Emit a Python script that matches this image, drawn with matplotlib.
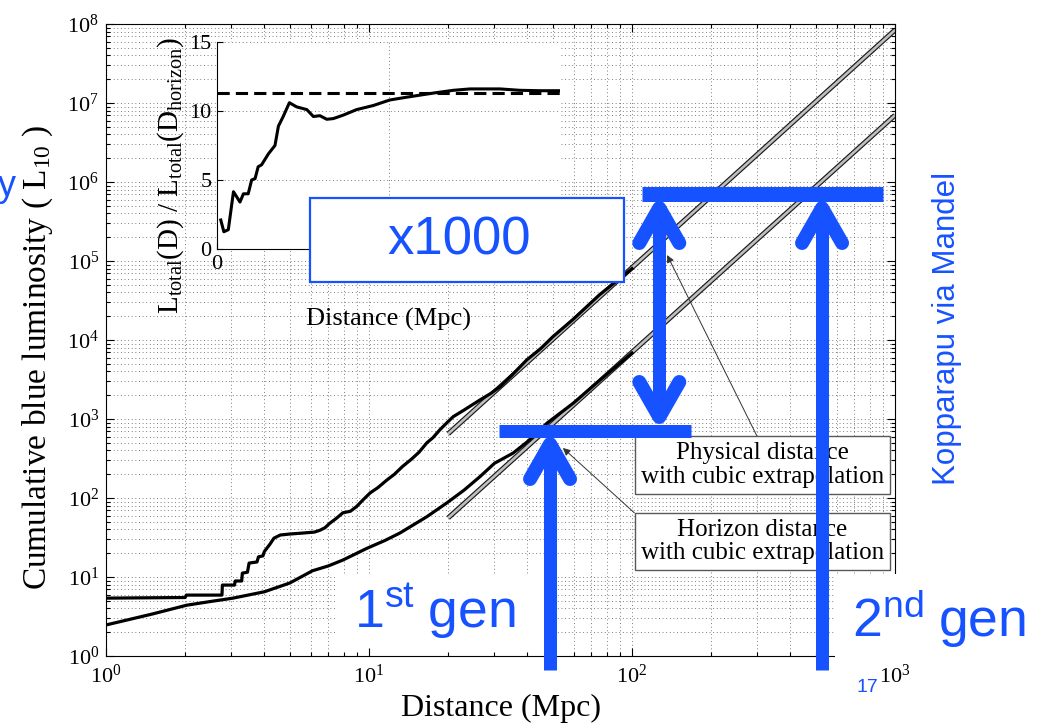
import numpy as np
import matplotlib
matplotlib.use("Agg")
import matplotlib.pyplot as plt
from matplotlib.ticker import LogLocator, NullFormatter, FixedLocator
from matplotlib.lines import Line2D
from matplotlib.patches import Rectangle
from matplotlib.transforms import IdentityTransform

plt.rcParams.update({
    'font.family': ['Liberation Serif', 'DejaVu Serif'],
    'mathtext.fontset': 'custom',
    'mathtext.rm': 'Liberation Serif',
    'mathtext.it': 'Liberation Serif:italic',
    'mathtext.bf': 'Liberation Serif:bold',
})

# ---------------------------------------------------------------- data
# cumulative blue luminosity (L10) inside a given physical distance (Mpc)
phys_dist = [1.0, 2.0, 2.02, 2.76, 2.77, 3.08, 3.1, 3.28, 3.3, 3.45, 3.5, 3.75,
             3.8, 3.95, 4.0, 4.2, 4.35, 4.6, 5.0, 5.6, 6.2, 6.5, 6.8, 7.1, 7.5,
             7.96, 8.5, 8.97, 9.5, 10.1, 10.8, 11.7, 12.5, 13.4, 14.5, 15.5,
             16.6, 17.5, 18.6, 19.6, 20.9, 23.0, 26.4, 29.0, 31.5, 35.0, 39.8,
             45.0, 50.0, 60.0, 75.0, 100.0]
phys_lum = [5.4, 5.5, 5.9, 5.9, 7.9, 7.9, 8.9, 8.9, 11.2, 11.5, 15, 15.5,
            18, 18.5, 21, 26, 31, 34, 35, 36, 37, 39, 42, 48, 55,
            65, 68, 78, 95, 116, 135, 169, 200, 250, 310, 380,
            500, 580, 730, 870, 1070, 1300, 1740, 2100, 2560, 3600, 5600,
            7800, 11000, 18500, 37000, 80000]

# same quantity against horizon distance
hor_dist = [1.0, 1.5, 2.03, 2.5, 3.04, 4.0, 5.0, 6.1, 7.0, 7.96, 9.8, 11.5,
            13.1, 16.6, 19.8, 23.0, 26.4, 30.0, 35.3, 40.0, 47.6, 60.0,
            75.5, 100.0]
hor_lum = [2.47, 3.4, 4.4, 4.9, 5.4, 6.5, 8.4, 12, 13.8, 16.4, 23, 29,
           36, 58, 87, 126, 186, 275, 370, 515, 890, 1600,
           3100, 6840]

# cubic extrapolations (end points)
ext_dist = [20, 1000]
phys_ext_lum = [650, 8.4e7]
hor_ext_lum = [56, 7.0e6]

# inset: L_total(D) / L_total(D_horizon)
ratio_dist = [1.1, 2.0, 3.3, 4.8, 5.7, 6.7, 7.7, 9.1, 10.1, 11.1, 12.0, 13.0,
              15.0, 16.9, 17.9, 19.3, 21.1, 23.2, 26.2, 28.1, 30.0, 32.0,
              33.9, 36.8, 40.7, 45.6, 50.4, 55.3, 63.1, 68.9, 73.8, 82.5,
              88.3, 94.2, 99.8]
ratio_val = [2.1, 1.25, 1.4, 4.15, 3.8, 3.4, 4.0, 4.0, 5.0, 5.1, 5.96, 6.1,
             6.9, 7.5, 8.9, 9.6, 10.6, 10.3, 10.1, 9.6, 9.66, 9.4,
             9.45, 9.7, 10.1, 10.4, 10.8, 11.0, 11.3, 11.5, 11.6, 11.6,
             11.5, 11.47, 11.47]
ratio_limit = 11.3
inset_xticks = [0, 50, 100]
inset_xticklabels = ['0', '', '']
inset_yticks = [0, 5, 10, 15]

# detector generations
first_gen_lum = 715
gain = 1000
second_gen_lum = first_gen_lum * gain
first_gen_dist = 48.8
second_gen_dist = 528
gain_arrow_dist = 127
first_bar_span = [31.2, 167]
second_bar_span = [109, 900]

# annotation targets
phys_note_xy = (136, 1.19e5)
hor_note_xy = (54.6, 430)

# ---------------------------------------------------------------- figure
W, H = 1044, 728
DPI = 100
PT = 72 / DPI
fig = plt.figure(figsize=(W / DPI, H / DPI), dpi=DPI)
BLUE = '#1652ff'
SANS = ['Liberation Sans', 'DejaVu Sans']


def rect(l, t, r, b):
    return [l / W, 1 - b / H, (r - l) / W, (b - t) / H]


def fpos(x, y):
    return x / W, 1 - y / H


def log_setup(a):
    a.set_xscale('log')
    a.set_yscale('log')
    a.set_xlim(1, 1000)
    a.set_ylim(1, 1e8)
    for axis in (a.xaxis, a.yaxis):
        axis.set_major_locator(LogLocator(10, numticks=20))
        axis.set_minor_locator(LogLocator(10, subs=np.arange(2, 10), numticks=60))
        axis.set_minor_formatter(NullFormatter())


GRID = dict(color='0.42', linestyle=(0, (1, 3)), linewidth=0.65)
main_rect = rect(106, 24, 895, 656)

# background grid layer
gax = fig.add_axes(main_rect, zorder=0)
log_setup(gax)
gax.grid(True, which='both', **GRID)
gax.tick_params(which='both', length=0, labelbottom=False, labelleft=False)
for s in gax.spines.values():
    s.set_visible(False)
# blank area behind the "1st gen" label
gax.add_patch(Rectangle((337, H - 655), 211, 81, transform=IdentityTransform(),
                        facecolor='white', edgecolor='none', zorder=3))

# main axes
ax = fig.add_axes(main_rect, zorder=1)
ax.set_facecolor('none')
log_setup(ax)
ax.tick_params(which='both', direction='in', top=True, right=True,
               width=0.8, labelsize=16)
ax.tick_params(which='major', length=6)
ax.tick_params(which='minor', length=3)
ax.tick_params(axis='x', which='major', pad=6)
ax.tick_params(axis='y', which='major', pad=5)

for lum in (phys_ext_lum, hor_ext_lum):
    ax.plot(ext_dist, lum, color='0.1', lw=3.6, solid_capstyle='butt', zorder=2)
    ax.plot(ext_dist, lum, color='0.75', lw=1.9, solid_capstyle='butt', zorder=2.1)
ax.plot(phys_dist, phys_lum, color='black', lw=2.3, zorder=3)
ax.plot(hor_dist, hor_lum, color='black', lw=2.3, zorder=3)

box_style = dict(boxstyle='square,pad=0.24', fc='white', ec='0.35', lw=1.0)
arrow_style = dict(arrowstyle='-|>', color='0.2', lw=0.7, mutation_scale=11,
                   shrinkA=0, shrinkB=0)
ax.annotate('Physical distance\nwith cubic extrapolation', xy=phys_note_xy,
            xycoords='data', xytext=(762.5, H - 465), textcoords='figure pixels',
            ha='center', va='center', fontsize=18, linespacing=1.08,
            bbox=box_style, arrowprops=dict(relpos=(0.49, 1.0), **arrow_style),
            zorder=5, annotation_clip=False)
ax.annotate('Horizon distance\nwith cubic extrapolation', xy=hor_note_xy,
            xycoords='data', xytext=(762.5, H - 541.5), textcoords='figure pixels',
            ha='center', va='center', fontsize=18, linespacing=1.08,
            bbox=box_style, arrowprops=dict(relpos=(0.0, 1.0), **arrow_style),
            zorder=5, annotation_clip=False)

fig.text(*fpos(501, 708), 'Distance (Mpc)', fontsize=23, ha='center', va='center')
fig.text(*fpos(38, 357), r'Cumulative blue luminosity ( $\mathdefault{L_{10}}$ )',
         fontsize=24, rotation=90, ha='center', va='center')

# inset
ins = fig.add_axes(rect(217, 42, 560, 249), zorder=2)
ins.set_facecolor('white')
ins.plot([inset_xticks[0], inset_xticks[-1]], [ratio_limit, ratio_limit],
         color='black', lw=2.2, linestyle='--', dashes=(4, 2))
ins.plot(ratio_dist, ratio_val, color='black', lw=2.2)
ins.set_xlim(inset_xticks[0], inset_xticks[-1])
ins.set_ylim(inset_yticks[0], inset_yticks[-1])
ins.xaxis.set_major_locator(FixedLocator(inset_xticks))
ins.set_xticklabels(inset_xticklabels)
ins.yaxis.set_major_locator(FixedLocator(inset_yticks))
ins.spines['top'].set_visible(False)
ins.spines['right'].set_visible(False)
ins.grid(True, **GRID)
ins.tick_params(direction='in', length=4, width=0.8, labelsize=16, pad=4)
fig.text(*fpos(388, 319), 'Distance (Mpc)', fontsize=19, ha='center', va='center')
fig.text(*fpos(171, 176),
         r'$\mathdefault{L_{total}(D)\ /\ L_{total}(D_{horizon})}$',
         fontsize=21, rotation=90, ha='center', va='center')

# ---------------------------------------------------------------- overlay
def px(d, l):
    return ax.transData.transform((d, l))


def stroke(xs, ys, width_px, cap='butt'):
    fig.add_artist(Line2D(xs, ys, transform=IdentityTransform(), color=BLUE,
                          linewidth=width_px * PT, solid_capstyle=cap,
                          solid_joinstyle='round', zorder=10))


def chevron(x, tip_y, direction):
    ty = tip_y - direction * 7
    stroke([x - 20, x, x + 20], [ty - direction * 35, ty, ty - direction * 35],
           14, cap='round')


# white area behind "2nd gen"
fig.add_artist(Rectangle((835, H - 664), W - 835, 90, transform=IdentityTransform(),
                         facecolor='white', edgecolor='none', zorder=8))
# "x1000" box
fig.add_artist(Rectangle((310, H - 282), 314, 84, transform=IdentityTransform(),
                         facecolor='white', edgecolor=BLUE, lw=1.6, zorder=9))
fig.text(*fpos(459, 241), 'x1000', fontsize=38, color=BLUE, family=SANS,
         ha='center', va='center', zorder=11)

y1 = px(1, first_gen_lum)[1]
y2 = px(1, second_gen_lum)[1]
stroke([px(first_bar_span[0], 1)[0], px(first_bar_span[1], 1)[0]], [y1, y1], 13)
stroke([px(second_bar_span[0], 1)[0], px(second_bar_span[1], 1)[0]], [y2, y2], 15)
bottom = ax.get_position().y0 * H - 14

x = px(first_gen_dist, 1)[0]
stroke([x, x], [bottom, y1 - 13], 13)
chevron(x, y1 - 6.5, +1)

x = px(second_gen_dist, 1)[0]
stroke([x, x], [bottom, y2 - 14], 13)
chevron(x, y2 - 7.5, +1)

x = px(gain_arrow_dist, 1)[0]
stroke([x, x], [y1 + 13, y2 - 14], 13)
chevron(x, y2 - 7.5, +1)
chevron(x, y1 + 6.5, -1)

fig.text(*fpos(354, 628), r'$\mathdefault{1^{st}\ gen}$', fontsize=38.5, color=BLUE,
         family=SANS, ha='left', va='baseline', zorder=11)
fig.text(*fpos(852, 637), r'$\mathdefault{2^{nd}\ gen}$', fontsize=38.5, color=BLUE,
         family=SANS, ha='left', va='baseline', zorder=11)
fig.text(*fpos(947, 328), 'Kopparapu via Mandel', fontsize=22.5, color=BLUE,
         family=SANS, rotation=90, ha='center', va='center', zorder=11)
fig.text(*fpos(867, 688), '17', fontsize=14, color=BLUE, family=SANS,
         ha='center', va='center', zorder=11)
fig.text(*fpos(16, 186), 'y', fontsize=26, color=BLUE, family=SANS,
         ha='right', va='center', zorder=11)

fig.savefig('out.png', dpi=DPI)
